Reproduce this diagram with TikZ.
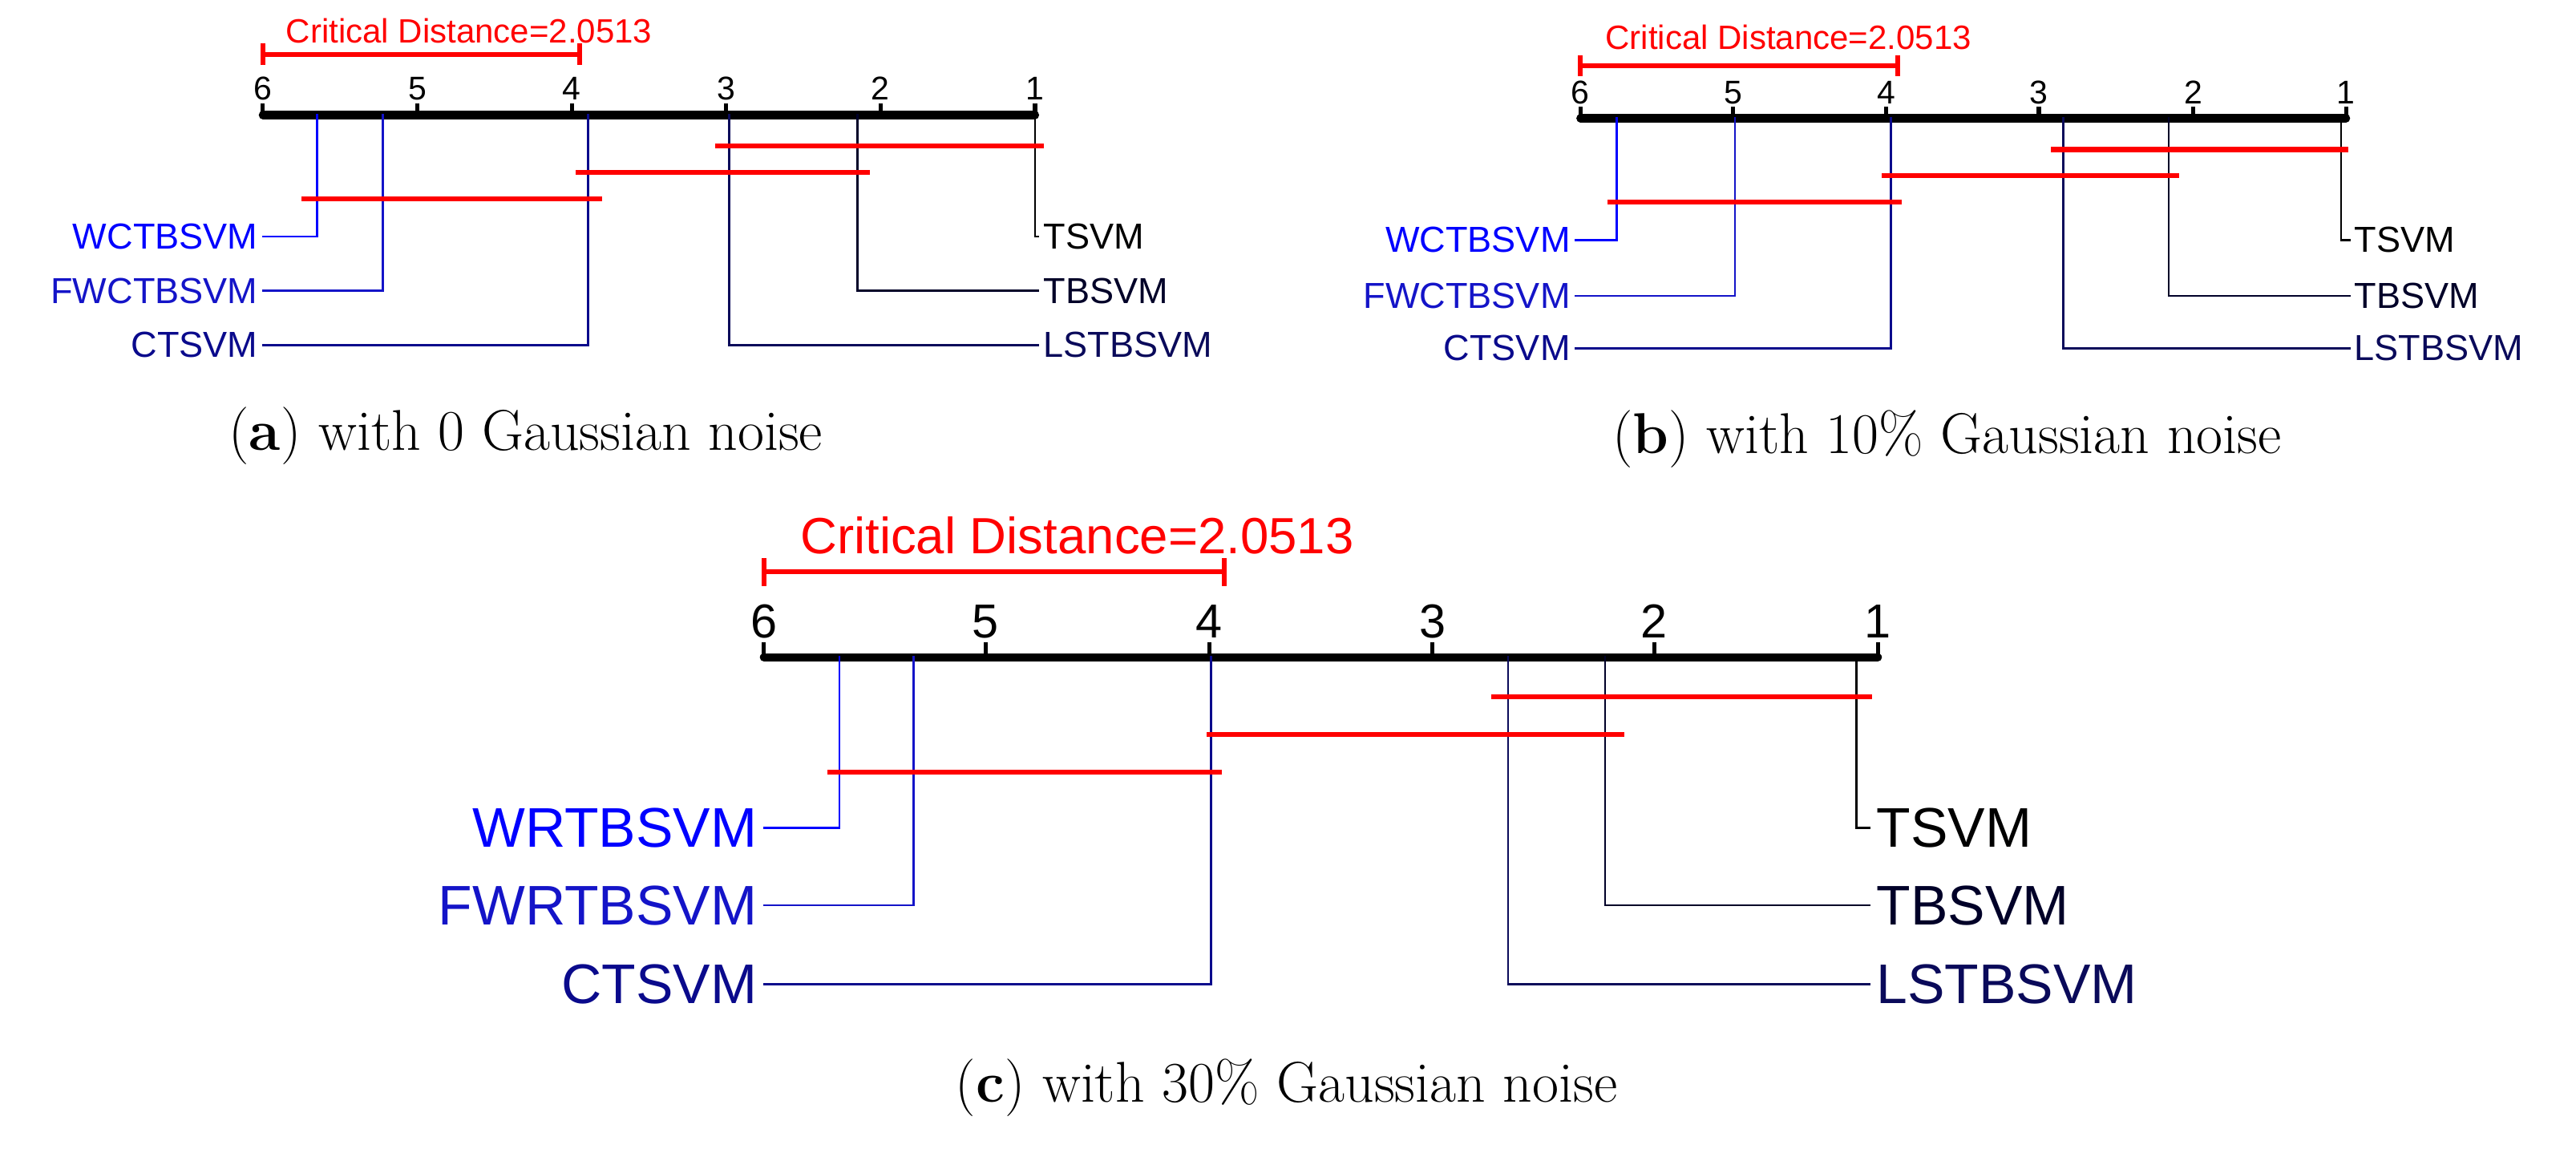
\documentclass[tikz,border=0pt]{standalone}
\usepackage{fontspec}
\newfontfamily\cdsans{Liberation Sans}
\definecolor{cdblueA}{RGB}{0,0,255}
\definecolor{cdblueB}{RGB}{20,20,200}
\definecolor{cdblueC}{RGB}{10,10,140}
\definecolor{cdnavyA}{RGB}{0,0,40}
\definecolor{cdnavyB}{RGB}{10,10,90}
\tikzset{
  cdaxis/.style={line width=5pt, line cap=round},
  cdtick/.style={line width=2.5pt},
  cdbar/.style={red, line width=3pt},
  cdlink/.style={line width=1.3pt},
  cdcap/.style={font=\fontsize{35}{35}\selectfont, anchor=base},
}
\begin{document}
\begin{tikzpicture}[x=1pt,y=-1pt,line cap=rect]
\useasboundingbox (0,0) rectangle (1568,699);
% panel a
\draw[cdaxis] (160,70) -- (630,70);
\foreach \r/\x in {6/160,5/254,4/348,3/442,2/536,1/630}{
  \draw[cdtick] (\x,70) -- (\x,64);
  \node[font=\cdsans\fontsize{20}{20}\selectfont, anchor=base] at (\x,61) {\r};}
\draw[cdbar] (160,28) -- (160,38) (160,33) -- (353,33) (353,28) -- (353,38);
\node[red, font=\cdsans\fontsize{20.5}{20}\selectfont, anchor=base west, inner sep=0] (aCD) at (174,26) {Critical Distance=2.0513};
\coordinate (aW) at (193,70); \coordinate (aF) at (233,70); \coordinate (aC) at (358,70);
\coordinate (aT) at (630,70); \coordinate (aB) at (522,70); \coordinate (aL) at (444,70);
\begin{scope}[font=\cdsans\fontsize{22}{22}\selectfont, inner sep=3pt]
\node[cdblueA, anchor=east] (aWl) at (160,144) {WCTBSVM};
\node[cdblueB, anchor=east] (aFl) at (160,177) {FWCTBSVM};
\node[cdblueC, anchor=east] (aCl) at (160,210) {CTSVM};
\node[black, anchor=west] (aTl) at (632,144) {TSVM};
\node[cdnavyA, anchor=west] (aBl) at (632,177) {TBSVM};
\node[cdnavyB, anchor=west] (aLl) at (632,210) {LSTBSVM};
\end{scope}
\draw[cdlink, cdblueA] (aW) |- (aWl.east);
\draw[cdlink, cdblueB] (aF) |- (aFl.east);
\draw[cdlink, cdblueC] (aC) |- (aCl.east);
\draw[cdlink, black] (aT) |- (aTl.west);
\draw[cdlink, cdnavyA] (aB) |- (aBl.west);
\draw[cdlink, cdnavyB] (aL) |- (aLl.west);
\draw[cdbar] (437,89) -- (634,89) (352,105) -- (528,105) (185,121) -- (365,121);
\node[cdcap] (aCap) at (320,274) {(\textbf{a}) with 0 Gaussian noise};
% panel b
\draw[cdaxis] (962,72) -- (1428,72);
\foreach \r/\x in {6/962,5/1055,4/1148,3/1241,2/1335,1/1428}{
  \draw[cdtick] (\x,72) -- (\x,66);
  \node[font=\cdsans\fontsize{20}{20}\selectfont, anchor=base] at (\x,63) {\r};}
\draw[cdbar] (962,35) -- (962,45) (962,40) -- (1155,40) (1155,35) -- (1155,45);
\node[red, font=\cdsans\fontsize{20.5}{20}\selectfont, anchor=base west, inner sep=0] (bCD) at (977,30) {Critical Distance=2.0513};
\coordinate (bW) at (984,72); \coordinate (bF) at (1056,72); \coordinate (bC) at (1151,72);
\coordinate (bT) at (1425,72); \coordinate (bB) at (1320,72); \coordinate (bL) at (1256,72);
\begin{scope}[font=\cdsans\fontsize{22}{22}\selectfont, inner sep=3pt]
\node[cdblueA, anchor=east] (bWl) at (959,146) {WCTBSVM};
\node[cdblueB, anchor=east] (bFl) at (959,180) {FWCTBSVM};
\node[cdblueC, anchor=east] (bCl) at (959,212) {CTSVM};
\node[black, anchor=west] (bTl) at (1430,146) {TSVM};
\node[cdnavyA, anchor=west] (bBl) at (1430,180) {TBSVM};
\node[cdnavyB, anchor=west] (bLl) at (1430,212) {LSTBSVM};
\end{scope}
\draw[cdlink, cdblueA] (bW) |- (bWl.east);
\draw[cdlink, cdblueB] (bF) |- (bFl.east);
\draw[cdlink, cdblueC] (bC) |- (bCl.east);
\draw[cdlink, black] (bT) |- (bTl.west);
\draw[cdlink, cdnavyA] (bB) |- (bBl.west);
\draw[cdlink, cdnavyB] (bL) |- (bLl.west);
\draw[cdbar] (1250,91) -- (1428,91) (1147,107) -- (1325,107) (980,123) -- (1156,123);
\node[cdcap] (bCap) at (1185,276) {(\textbf{b}) with 10\% Gaussian noise};
% panel c
\draw[cdaxis] (465,400) -- (1143,400);
\foreach \r/\x in {6/465,5/600,4/736,3/872,2/1007,1/1143}{
  \draw[cdtick] (\x,400) -- (\x,392);
  \node[font=\cdsans\fontsize{29}{29}\selectfont, anchor=base] at (\x,388) {\r};}
\draw[cdbar] (465,341) -- (465,355) (465,348) -- (745,348) (745,341) -- (745,355);
\node[red, font=\cdsans\fontsize{31}{31}\selectfont, anchor=base west, inner sep=0] (cCD) at (487,337) {Critical Distance=2.0513};
\coordinate (cW) at (511,400); \coordinate (cF) at (556,400); \coordinate (cC) at (737,400);
\coordinate (cT) at (1130,400); \coordinate (cB) at (977,400); \coordinate (cL) at (918,400);
\begin{scope}[font=\cdsans\fontsize{34}{34}\selectfont, inner sep=4pt]
\node[cdblueA, anchor=east] (cWl) at (465,504) {WRTBSVM};
\node[cdblueB, anchor=east] (cFl) at (465,551) {FWRTBSVM};
\node[cdblueC, anchor=east] (cCl) at (465,599) {CTSVM};
\node[black, anchor=west] (cTl) at (1138,504) {TSVM};
\node[cdnavyA, anchor=west] (cBl) at (1138,551) {TBSVM};
\node[cdnavyB, anchor=west] (cLl) at (1138,599) {LSTBSVM};
\end{scope}
\draw[cdlink, cdblueA] (cW) |- (cWl.east);
\draw[cdlink, cdblueB] (cF) |- (cFl.east);
\draw[cdlink, cdblueC] (cC) |- (cCl.east);
\draw[cdlink, black] (cT) |- (cTl.west);
\draw[cdlink, cdnavyA] (cB) |- (cBl.west);
\draw[cdlink, cdnavyB] (cL) |- (cLl.west);
\draw[cdbar] (909,424) -- (1138,424) (736,447) -- (987,447) (505,470) -- (742,470);
\node[cdcap] (cCap) at (783,671) {(\textbf{c}) with 30\% Gaussian noise};
\end{tikzpicture}
\end{document}
